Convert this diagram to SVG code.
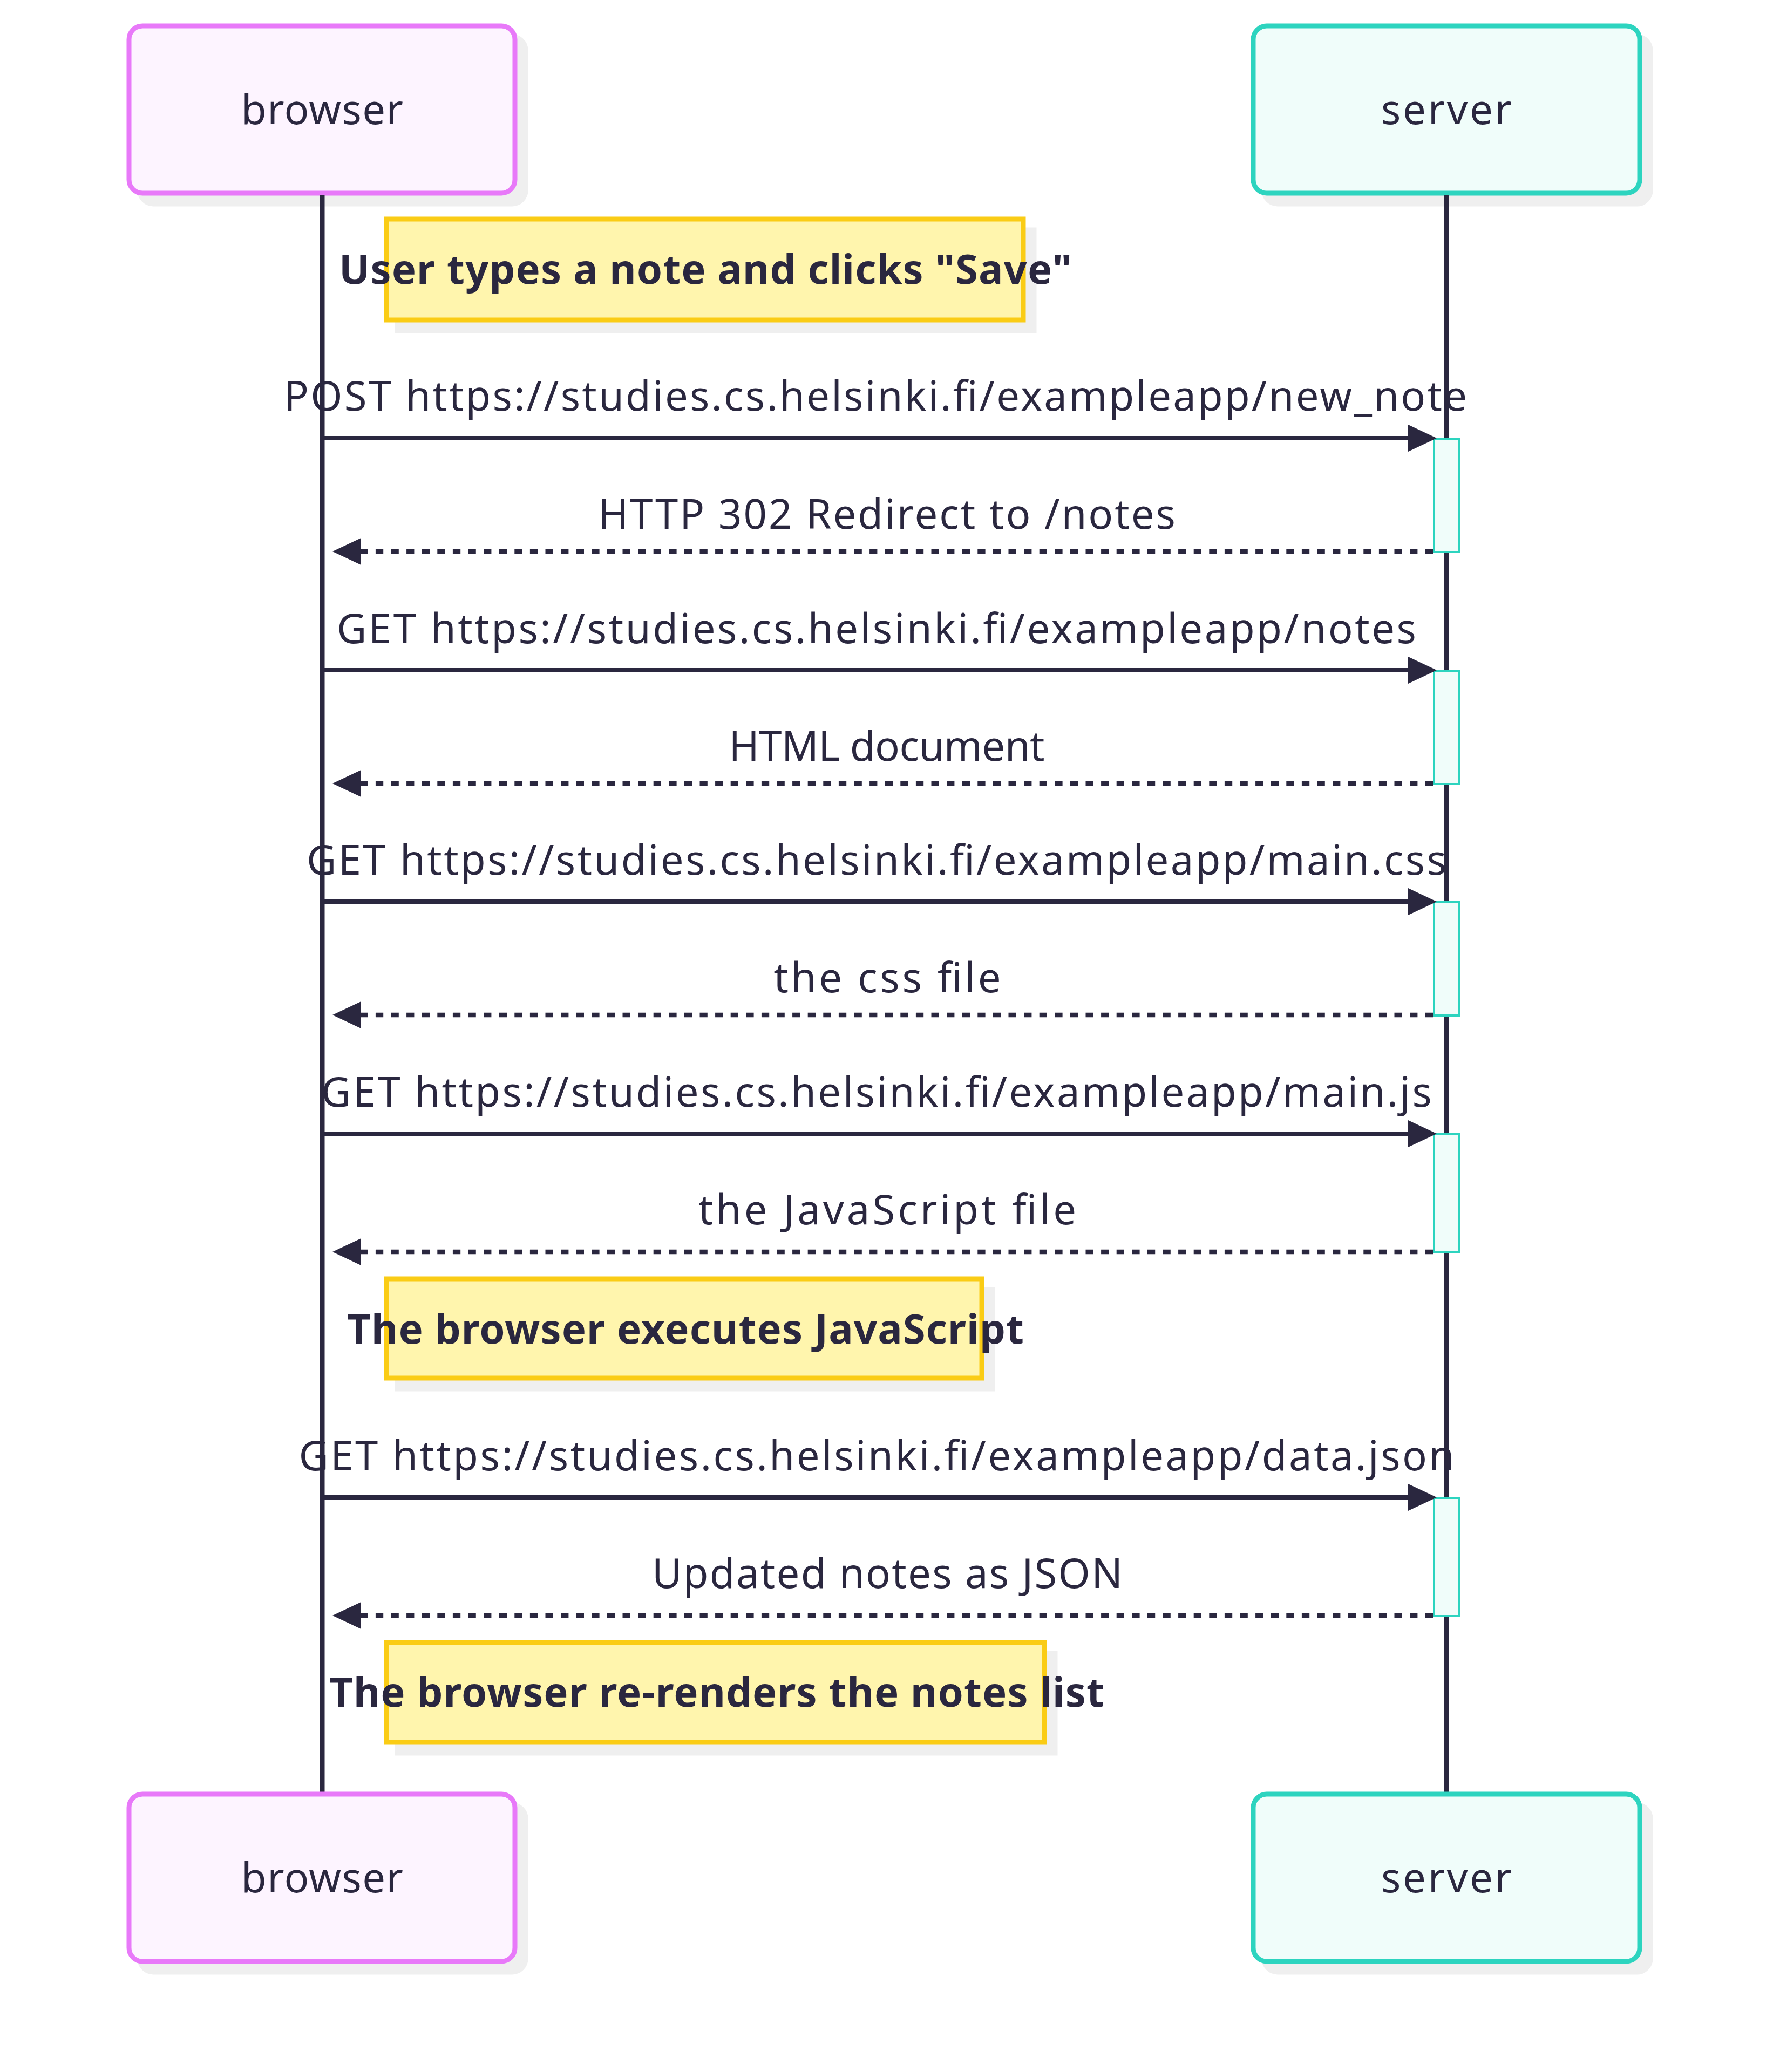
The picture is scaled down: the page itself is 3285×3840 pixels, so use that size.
<svg xmlns="http://www.w3.org/2000/svg" width="3285" height="3840" viewBox="0 0 3285 3840">
<style>
.bg{fill:#ffffff}
.shadow{fill:#efefef;stroke:#efefef;stroke-width:9}
.actB{fill:#fdf4ff;stroke:#e879f9;stroke-width:9}
.actS{fill:#f0fdfa;stroke:#2dd4bf;stroke-width:9}
.life{stroke:#2a273f;stroke-width:9;fill:none}
.act{fill:#f0fdfa;stroke:#2dd4bf;stroke-width:4}
.note{fill:#fff5ad;stroke:#facc15;stroke-width:9}
.msg{stroke:#2a273f;stroke-width:8;fill:none}
.dot{stroke:#2a273f;stroke-width:8.5;fill:none;stroke-dasharray:14.3 14.3}
text{font-family:"Noto Sans","Open Sans","DejaVu Sans",sans-serif;font-size:76px;fill:#2a273f;text-anchor:middle}
.bold{font-weight:bold}
</style>
<defs>
<marker id="arrow" viewBox="0 0 10.6 10" markerUnits="userSpaceOnUse" markerWidth="53" markerHeight="50" refX="8.2" refY="5" orient="auto">
<path d="M0,0 L10.6,5 L0,10 z" fill="#2a273f"/>
</marker>
</defs>
<rect class="bg" x="0" y="0" width="3285" height="3840"/>
<g id="actor-browser-top">
<rect class="shadow" x="259" y="68" width="715" height="310" rx="25"/>
<rect class="actB" x="239" y="48" width="715" height="310" rx="25"/>
<text x="597" y="230" textLength="300">browser</text>
</g>
<g id="actor-server-top">
<rect class="shadow" x="2342" y="68" width="716" height="310" rx="25"/>
<rect class="actS" x="2322" y="48" width="716" height="310" rx="25"/>
<text x="2680" y="230" textLength="242">server</text>
</g>
<g id="lifelines">
<line class="life" x1="597" y1="362" x2="597" y2="3322"/>
<line class="life" x1="2680" y1="362" x2="2680" y2="3322"/>
</g>
<g id="actor-browser-bottom">
<rect class="shadow" x="259" y="3345" width="715" height="310" rx="25"/>
<rect class="actB" x="239" y="3325" width="715" height="310" rx="25"/>
<text x="597" y="3507" textLength="300">browser</text>
</g>
<g id="actor-server-bottom">
<rect class="shadow" x="2342" y="3345" width="716" height="310" rx="25"/>
<rect class="actS" x="2322" y="3325" width="716" height="310" rx="25"/>
<text x="2680" y="3507" textLength="242">server</text>
</g>
<g id="activations">
<rect class="act" x="2657" y="813" width="46" height="210"/>
<rect class="act" x="2657" y="1243" width="46" height="210"/>
<rect class="act" x="2657" y="1672" width="46" height="210"/>
<rect class="act" x="2657" y="2102" width="46" height="219"/>
<rect class="act" x="2657" y="2776" width="46" height="219"/>
</g>
<g id="note1">
<rect class="shadow" x="736" y="426" width="1180" height="187"/>
<rect class="note" x="716" y="406" width="1180" height="187"/>
<text class="bold" x="1307" y="526" textLength="1358">User types a note and clicks "Save"</text>
</g>
<g id="note2">
<rect class="shadow" x="736" y="2390" width="1103" height="184"/>
<rect class="note" x="716" y="2370" width="1103" height="184"/>
<text class="bold" x="1270" y="2490" textLength="1254">The browser executes JavaScript</text>
</g>
<g id="note3">
<rect class="shadow" x="736" y="3064" width="1219" height="185"/>
<rect class="note" x="716" y="3044" width="1219" height="185"/>
<text class="bold" x="1328" y="3163" textLength="1436">The browser re-renders the notes list</text>
</g>
<g id="connectors">
<line class="msg" x1="597" y1="812" x2="2650" y2="812" marker-end="url(#arrow)"/>
<line class="dot" x1="2655" y1="1022" x2="628" y2="1022" marker-end="url(#arrow)"/>
<line class="msg" x1="597" y1="1242" x2="2650" y2="1242" marker-end="url(#arrow)"/>
<line class="dot" x1="2655" y1="1452" x2="628" y2="1452" marker-end="url(#arrow)"/>
<line class="msg" x1="597" y1="1671" x2="2650" y2="1671" marker-end="url(#arrow)"/>
<line class="dot" x1="2655" y1="1881" x2="628" y2="1881" marker-end="url(#arrow)"/>
<line class="msg" x1="597" y1="2101" x2="2650" y2="2101" marker-end="url(#arrow)"/>
<line class="dot" x1="2655" y1="2320" x2="628" y2="2320" marker-end="url(#arrow)"/>
<line class="msg" x1="597" y1="2775" x2="2650" y2="2775" marker-end="url(#arrow)"/>
<line class="dot" x1="2655" y1="2994" x2="628" y2="2994" marker-end="url(#arrow)"/>
</g>
<g id="message-labels">
<text x="1622" y="761" textLength="2192">POST https://studies.cs.helsinki.fi/exampleapp/new_note</text>
<text x="1643" y="980" textLength="1070">HTTP 302 Redirect to /notes</text>
<text x="1624" y="1192" textLength="2000">GET https://studies.cs.helsinki.fi/exampleapp/notes</text>
<text x="1643" y="1410" textLength="585">HTML document</text>
<text x="1624" y="1621" textLength="2112">GET https://studies.cs.helsinki.fi/exampleapp/main.css</text>
<text x="1644" y="1839" textLength="421">the css file</text>
<text x="1624" y="2051" textLength="2058">GET https://studies.cs.helsinki.fi/exampleapp/main.js</text>
<text x="1644" y="2269" textLength="700">the JavaScript file</text>
<text x="1624" y="2725" textLength="2141">GET https://studies.cs.helsinki.fi/exampleapp/data.json</text>
<text x="1644" y="2943" textLength="872">Updated notes as JSON</text>
</g>
</svg>
